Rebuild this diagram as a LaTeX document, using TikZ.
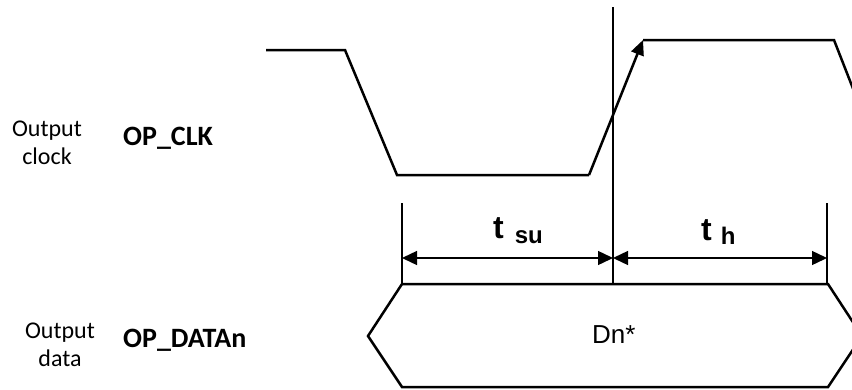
\documentclass[tikz,border=0pt]{standalone}
\usepackage{fontspec}
\usetikzlibrary{arrows.meta}
\newfontfamily\calibri{Carlito}
\newfontfamily\arial{Liberation Sans}

\begin{document}
\begin{tikzpicture}[x=1pt,y=-1pt]
                \tikzstyle{every node}+=[inner sep=0pt]
                \tikzstyle{wave}=[black,line width=2.5pt,line join=miter]
                \tikzstyle{guide}=[black,line width=1.4pt]
                \tikzstyle{dimarrow}=[guide,{Triangle[length=15pt,width=14pt]}-{Triangle[length=15pt,width=14pt]}]
                \tikzstyle{desc}=[font=\calibri\fontsize{24}{28}\selectfont,align=center]
                \tikzstyle{signame}=[font=\calibri\bfseries\fontsize{28}{32}\selectfont,anchor=base west]
                \tikzstyle{timing}=[font=\arial\bfseries\fontsize{32}{36}\selectfont,anchor=base west]
                \clip (0,0) rectangle (852,389);
                \node [desc] (clkdesc) at (47,143) {Output\\clock};
                \node [signame] (clkname) at (123,145) {OP\_CLK};
                \node [desc] (datadesc) at (60,345) {Output\\data};
                \node [signame] (dataname) at (123,347) {OP\_DATAn};
                \node [font=\arial\fontsize{26}{30}\selectfont,anchor=base west] (dn) at (592,343) {Dn*};
                \node [timing] (tsu) at (493,238) {t\hspace{11pt}\raisebox{-5pt}{\fontsize{24}{28}\selectfont su}};
                \node [timing] (th) at (701,240) {t\hspace{9pt}\raisebox{-4pt}{\fontsize{24}{28}\selectfont h}};
                \draw [wave] (266,50) -- (345,50) -- (397,175) -- (589,175);
                \draw [wave,-{Triangle[length=15pt,width=13pt]}] (589,175) -- (643,40);
                \draw [wave] (643,40) -- (834,40) -- (870,132);
                \draw [guide] (613,7) -- (613,284);
                \draw [guide] (402,203) -- (402,284);
                \draw [guide] (827,203) -- (827,284);
                \draw [dimarrow] (402,258) -- (613,258);
                \draw [dimarrow] (613,258) -- (827,258);
                \draw [wave] (402,284) -- (828,284) -- (862,336) -- (828,387) -- (402,387) -- (368,336) -- cycle;
              \end{tikzpicture}
\end{document}
